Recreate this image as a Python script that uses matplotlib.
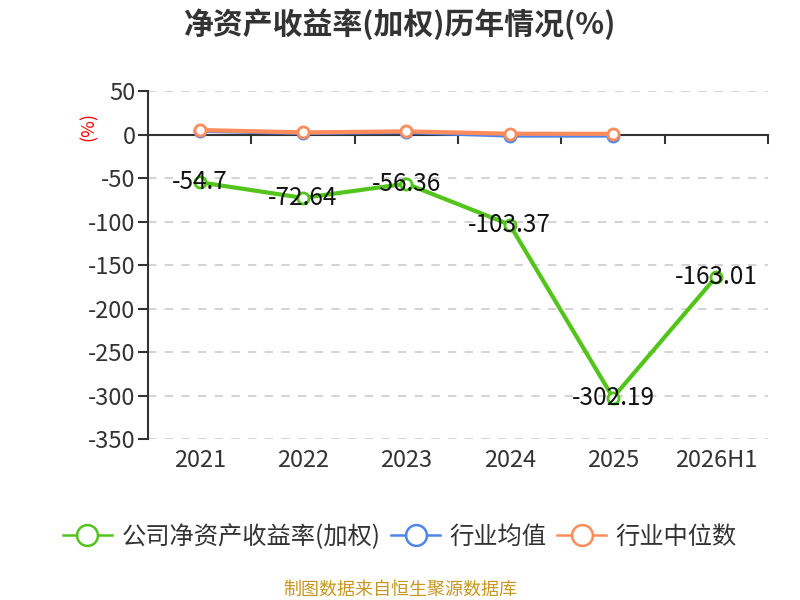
import matplotlib
matplotlib.use("Agg")
import matplotlib.pyplot as plt
from matplotlib.lines import Line2D
import numpy as np

plt.rcParams['font.family'] = ['Noto Sans CJK SC', 'DejaVu Sans']

categories = ["2021", "2022", "2023", "2024", "2025", "2026H1"]
company_roe = [-54.7, -72.64, -56.36, -103.37, -302.19, -163.01]
industry_avg = [4.5, 2.0, 3.0, -1.0, -1.0]
industry_median = [5.4, 2.6, 3.8, 1.1, 1.0]
y_ticks = [50, 0, -50, -100, -150, -200, -250, -300, -350]
series_names = ["公司净资产收益率(加权)", "行业均值", "行业中位数"]

green = "#52C41A"
blue = "#4E86E8"
orange = "#FF8C5A"

fig = plt.figure(figsize=(8, 6), dpi=100)
ax = fig.add_axes([0.185, 0.268, 0.775, 0.58])

x = np.arange(len(categories))

ax.plot(x, company_roe, color=green, lw=3, marker="o", ms=8,
        mfc="white", mec=green, mew=2, zorder=3)
ax.plot(x[:len(industry_avg)], industry_avg, color=blue, lw=3, marker="o", ms=8,
        mfc="white", mec=blue, mew=2, zorder=4)
ax.plot(x[:len(industry_median)], industry_median, color=orange, lw=3, marker="o", ms=8,
        mfc="white", mec=orange, mew=2, zorder=5)

for xi, v in zip(x, company_roe):
    ax.text(xi, v, f"{v:g}", ha="center", va="center", fontsize=17.5,
            color="#111111", zorder=6)

ax.set_xlim(-0.5, len(categories) - 0.5)
ax.set_ylim(-350, 50)
ax.set_yticks(y_ticks)
ax.set_yticklabels([str(t) for t in y_ticks], fontsize=17, color="#333333")
ax.yaxis.grid(True, ls=(0, (5, 5)), color="#cccccc", lw=1.2)
ax.set_axisbelow(True)

for s in ["top", "right", "bottom"]:
    ax.spines[s].set_visible(False)
ax.spines["left"].set_color("#333333")
ax.spines["left"].set_linewidth(1.5)
ax.tick_params(axis="y", length=7, width=1.5, color="#333333", pad=2)

# x axis drawn at zero
ax.axhline(0, color="#333333", lw=1.5, zorder=2)
ax.set_xticks([])
for b in np.arange(0.5, len(categories), 1.0):
    ax.plot([b, b], [0, -9], color="#333333", lw=1.5, zorder=2, clip_on=False)
for xi, c in zip(x, categories):
    ax.text(xi, -361, c, ha="center", va="top", fontsize=17, color="#333333")

ax.text(-1.07, 9, "(%)", rotation=90, color="red", fontsize=13,
        ha="center", va="center")

fig.text(0.5, 0.96, "净资产收益率(加权)历年情况(%)", ha="center", va="center",
         fontsize=21.5, fontweight="bold", color="#333333")

handles = [Line2D([], [], color=c, lw=1.8, marker="o", ms=15, mfc="white",
                  mec=c, mew=1.8) for c in (green, blue, orange)]
leg = fig.legend(handles, series_names, loc="center", bbox_to_anchor=(0.5, 0.105),
                 ncol=3, frameon=False, fontsize=17.5, handlelength=2.0,
                 columnspacing=0.45, handletextpad=0.4)
for t in leg.get_texts():
    t.set_color("#333333")

fig.text(0.5, 0.017, "制图数据来自恒生聚源数据库", ha="center", va="center",
         fontsize=13, color="#C8961E")

fig.savefig("out.png", dpi=100)
